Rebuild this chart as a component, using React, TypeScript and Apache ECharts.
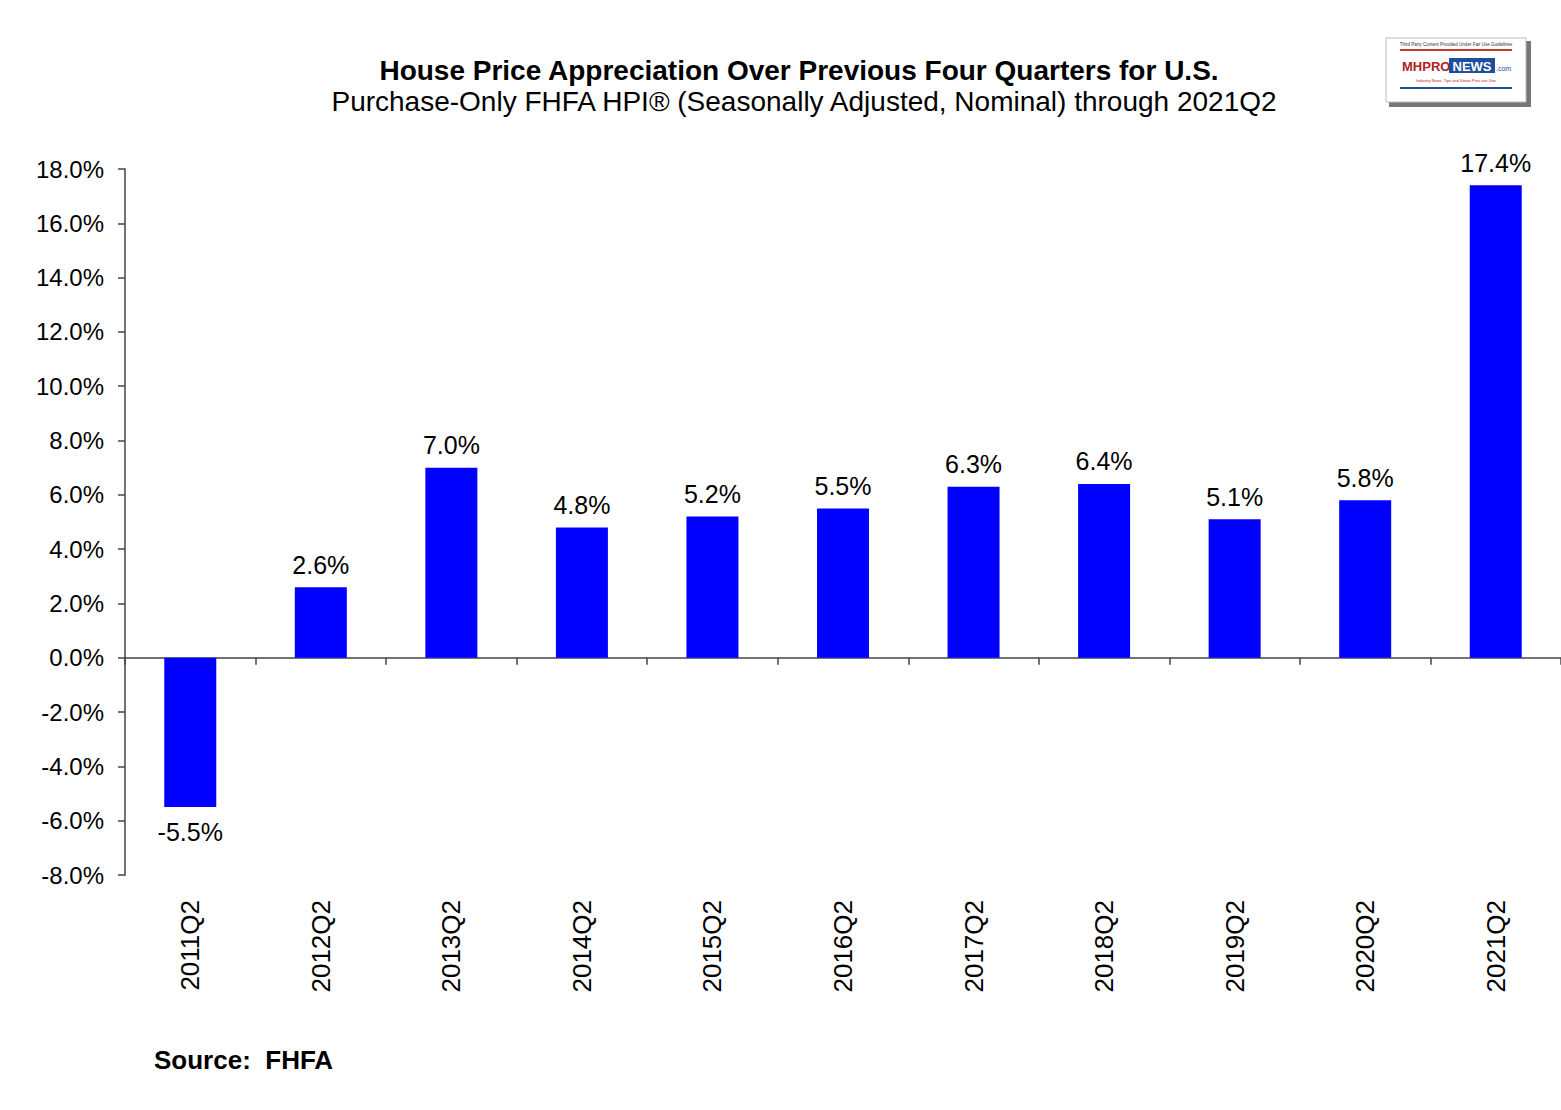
import React, { useEffect, useRef } from "react";
import * as echarts from "echarts";

const categories = ["2011Q2", "2012Q2", "2013Q2", "2014Q2", "2015Q2", "2016Q2", "2017Q2", "2018Q2", "2019Q2", "2020Q2", "2021Q2"];
const values = [-5.5, 2.6, 7.0, 4.8, 5.2, 5.5, 6.3, 6.4, 5.1, 5.8, 17.4];
const titleText = "House Price Appreciation Over Previous Four Quarters for U.S.";
const subtitleText = "Purchase-Only FHFA HPI® (Seasonally Adjusted, Nominal) through 2021Q2";
const sourceText = "Source:  FHFA";

const FONT = "Liberation Sans, Arial, Helvetica, sans-serif";

export default function App() {
  const ref = useRef<HTMLDivElement>(null);
  useEffect(() => {
    document.body.style.margin = "0";
    const chart = echarts.init(ref.current!, null, { renderer: "svg" });
    chart.setOption({
      animation: false,
      backgroundColor: "#ffffff",
      textStyle: { fontFamily: FONT },
      grid: { left: 125, right: 0, top: 169, bottom: 235, containLabel: false },
      xAxis: [
        {
          type: "category",
          data: categories,
          axisLine: { show: false, onZero: false },
          axisTick: { show: false },
          axisLabel: { rotate: 90, margin: 25, fontSize: 26, color: "#000", fontFamily: FONT },
        },
        {
          type: "category",
          data: categories,
          position: "bottom",
          axisLine: { show: true, onZero: true, lineStyle: { color: "#444", width: 1.5 } },
          axisTick: { show: true, length: 7, inside: false, lineStyle: { color: "#444", width: 1.5 } },
          axisLabel: { show: false },
        },
      ],
      yAxis: {
        type: "value",
        min: -8,
        max: 18,
        interval: 2,
        splitLine: { show: false },
        axisLine: { show: true, lineStyle: { color: "#444", width: 1.5 } },
        axisTick: { show: true, length: 7, lineStyle: { color: "#444", width: 1.5 } },
        axisLabel: {
          margin: 21,
          fontSize: 24,
          color: "#000",
          fontFamily: FONT,
          formatter: (v: number) => v.toFixed(1) + "%",
        },
      },
      series: [
        {
          type: "bar",
          xAxisIndex: 0,
          barWidth: 52,
          data: values.map((v) => ({
            value: v,
            label: { position: v < 0 ? "bottom" : "top", distance: v < 0 ? 12 : 10 },
          })),
          itemStyle: { color: "#0000FF" },
          label: {
            show: true,
            distance: 10,
            fontSize: 25,
            color: "#000",
            fontFamily: FONT,
            formatter: (p: any) => Number(p.value).toFixed(1) + "%",
          },
        },
      ],
      graphic: [
        {
          type: "text",
          x: 799,
          y: 70,
          style: { text: titleText, fontSize: 28, fontWeight: "bold", fill: "#000", fontFamily: FONT, textAlign: "center", textVerticalAlign: "middle" },
        },
        {
          type: "text",
          x: 804,
          y: 101,
          style: { text: subtitleText, fontSize: 28, fill: "#000", fontFamily: FONT, textAlign: "center", textVerticalAlign: "middle" },
        },
        {
          type: "text",
          x: 154,
          y: 1060,
          style: { text: sourceText, fontSize: 26, fontWeight: "bold", fill: "#000", fontFamily: FONT, textAlign: "left", textVerticalAlign: "middle" },
        },
        {
          type: "group",
          x: 1386,
          y: 38,
          children: [
            { type: "rect", shape: { x: 3, y: 3, width: 142, height: 66 }, style: { fill: "#777" } },
            { type: "rect", shape: { x: 0, y: 0, width: 140, height: 64 }, style: { fill: "#fff", stroke: "#bbb", lineWidth: 1 } },
            { type: "text", x: 70, y: 6, style: { text: "Third Party Content Provided Under Fair Use Guidelines", fontSize: 4.5, fill: "#333", fontFamily: FONT, textAlign: "center", textVerticalAlign: "middle" } },
            { type: "rect", shape: { x: 14, y: 11, width: 112, height: 2 }, style: { fill: "#c0392b" } },
            { type: "text", x: 16, y: 28, style: { text: "MHPRO", fontSize: 13, fontWeight: "bold", fill: "#b22222", fontFamily: FONT, textAlign: "left", textVerticalAlign: "middle" } },
            { type: "rect", shape: { x: 63, y: 20, width: 46, height: 15 }, style: { fill: "#1f4e9c" } },
            { type: "text", x: 86, y: 28, style: { text: "NEWS", fontSize: 13, fontWeight: "bold", fill: "#fff", fontFamily: FONT, textAlign: "center", textVerticalAlign: "middle" } },
            { type: "text", x: 110, y: 30, style: { text: ".com", fontSize: 7, fill: "#1f4e9c", fontFamily: FONT, textAlign: "left", textVerticalAlign: "middle" } },
            { type: "text", x: 70, y: 42, style: { text: "Industry News, Tips and Views Pros can Use", fontSize: 4, fill: "#b22222", fontFamily: FONT, textAlign: "center", textVerticalAlign: "middle" } },
            { type: "rect", shape: { x: 14, y: 49, width: 112, height: 2 }, style: { fill: "#1f4e9c" } },
          ],
        },
      ],
    });
    return () => chart.dispose();
  }, []);
  return <div ref={ref} style={{ width: 1561, height: 1110 }} />;
}
